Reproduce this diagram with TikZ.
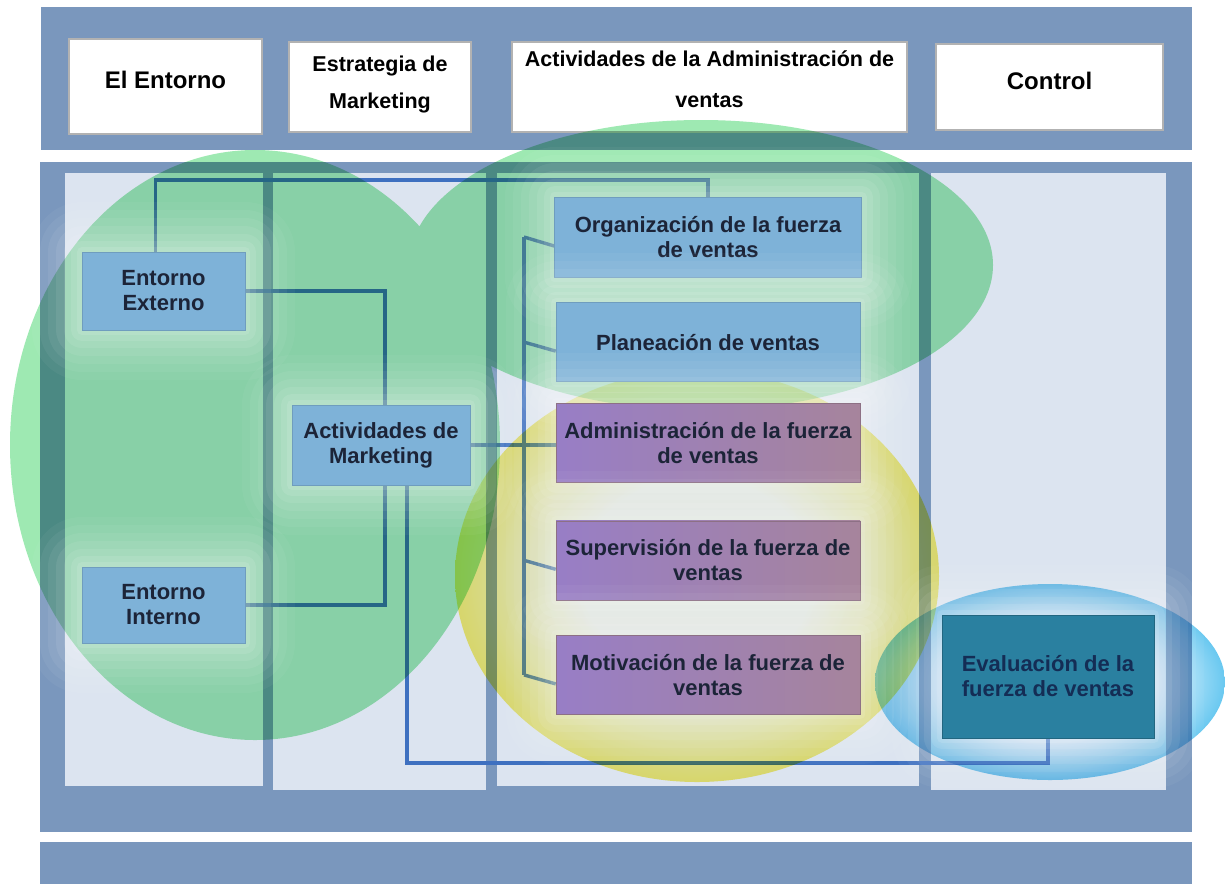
\documentclass[tikz,border=0pt]{standalone}
\usepackage{fontspec}
\setmainfont{Liberation Sans}
\usetikzlibrary{positioning}
\pgfdeclarelayer{back}
\pgfdeclarelayer{tint}
\pgfsetlayers{back,tint,main}
\definecolor{framec}{RGB}{122,151,189}
\definecolor{panelc}{RGB}{220,228,240}
\definecolor{boxc}{RGB}{126,178,216}
\definecolor{purpl}{RGB}{152,126,198}
\definecolor{purpr}{RGB}{166,132,156}
\definecolor{evalc}{RGB}{42,128,160}
\definecolor{linkc}{RGB}{62,112,192}
\definecolor{textc}{RGB}{28,36,56}
\definecolor{greenc}{RGB}{158,233,178}
\definecolor{yellin}{RGB}{252,252,232}
\definecolor{yellout}{RGB}{250,240,115}
\definecolor{bluein}{RGB}{228,246,255}
\definecolor{blueout}{RGB}{105,200,240}
% rim shadings: pale inside, colour near the edge
\pgfdeclareradialshading{yellrim}{\pgfpoint{0bp}{0bp}}{color(0bp)=(yellin); color(12bp)=(yellin); color(25bp)=(yellout); color(50bp)=(yellout)}
\pgfdeclareradialshading{bluerim}{\pgfpoint{0bp}{0bp}}{color(0bp)=(bluein); color(15bp)=(bluein); color(25bp)=(blueout); color(50bp)=(blueout)}

\begin{document}
\begin{tikzpicture}[x=0.5pt,y=-0.5pt,
  glow/.style={preaction={draw=white,draw opacity=.04,line width=50pt,line join=round},
               preaction={draw=white,draw opacity=.05,line width=42pt,line join=round},
               preaction={draw=white,draw opacity=.06,line width=34pt,line join=round},
               preaction={draw=white,draw opacity=.07,line width=26pt,line join=round},
               preaction={draw=white,draw opacity=.08,line width=18pt,line join=round},
               preaction={draw=white,draw opacity=.09,line width=11pt,line join=round},
               preaction={draw=white,draw opacity=.10,line width=5pt,line join=round}},
  inbox/.style={glow,inner sep=0pt,align=center,text=textc,
                font=\fontsize{11}{12.5}\selectfont\bfseries},
  bluebox/.style={inbox,fill=boxc,draw=boxc!88!black,line width=.3pt},
  purpbox/.style={inbox,left color=purpl,right color=purpr,draw=purpr!85!black,line width=.3pt,
                  minimum width=152pt,minimum height=39.5pt},
  head/.style={fill=white,draw=gray!60,line width=.8pt,inner sep=0pt,align=center},
  link/.style={draw=linkc,line width=1.7pt}]

\useasboundingbox (0,0) rectangle (1225,884);

% boxes inside the columns
\node[bluebox,minimum width=81.5pt,minimum height=39pt] (ext) at (163.5,291) {Entorno\\Externo};
\node[bluebox,minimum width=81.5pt,minimum height=38pt] (int) at (163.5,605) {Entorno\\Interno};
\node[bluebox,minimum width=89pt,minimum height=40pt] (mkt) at (381,445) {Actividades de\\Marketing};
\node[bluebox,minimum width=153.5pt,minimum height=40pt] (org) at (708,237) {Organización de la fuerza\\de ventas};
\node[bluebox,minimum width=152pt,minimum height=39.5pt,below=12.5pt of org] (plan) {Planeación de ventas};
\node[purpbox,below=10.5pt of plan] (adm) {Administración de la fuerza\\de ventas};
\node[purpbox,below=19pt of adm] (sup) {Supervisión de la fuerza de\\ventas};
\node[purpbox,below=17.5pt of sup] (mot) {Motivación de la fuerza de\\ventas};
\node[inbox,fill=evalc,draw=evalc!80!black,line width=.5pt,text={rgb,255:red,20;green,45;blue,85},
      minimum width=106pt,minimum height=61.5pt] (eval) at (1048,676.5) {Evaluación de la\\fuerza de ventas};

\begin{pgfonlayer}{back}
  % frame and columns
  \fill[framec] (41,7) rectangle (1192,150);
  \fill[framec] (40,162) rectangle (1192,832);
  \fill[framec] (40,842) rectangle (1192,884);
  \fill[panelc] (65,173) rectangle (263,786);
  \fill[panelc] (273,173) rectangle (486,790);
  \fill[panelc] (497,173) rectangle (919,786);
  \fill[panelc] (931,173) rectangle (1166,790);
  % column titles
  \node[head,minimum width=96.5pt,minimum height=47.5pt,text depth=6.5pt,
        font=\fontsize{12}{14}\selectfont\bfseries] (hEnt) at (165.5,86.5) {El Entorno};
  \node[head,minimum width=91pt,minimum height=45pt,text depth=5pt,
        font=\fontsize{10.75}{18.5}\selectfont\bfseries] (hEst) at (380,87) {Estrategia de\\Marketing};
  \node[head,minimum width=197.5pt,minimum height=45pt,text depth=8pt,
        font=\fontsize{10.75}{20.5}\selectfont\bfseries] (hAct) at (709.5,87) {Actividades de la Administración de\\ventas};
  \node[head,minimum width=113.5pt,minimum height=43pt,text depth=6.5pt,
        font=\fontsize{12}{14}\selectfont\bfseries] (hCtl) at (1049.5,87) {Control};
  % connectors
  \coordinate (topbar) at (600,180);
  \coordinate (botbar) at (700,763);
  \coordinate (brk) at (524,0);
  \draw[link] ([xshift=-4pt]ext.north) |- (topbar) -| (org.north);
  \draw[link] (ext.east) -| ([xshift=2pt]mkt.north);
  \draw[link] (int.east) -| ([xshift=2pt]mkt.south);
  \draw[link] (mkt.east) -- (mkt.east -| adm.west);
  \draw[link] (org.west -| brk) -- (mot.west -| brk);
  \foreach \b in {org,plan,sup,mot}
    \draw[link] (\b.west -| brk) -- ([yshift=-4.5pt]\b.west);
  \draw[link] ([xshift=13pt]mkt.south) |- (botbar) -| (eval.south);
\end{pgfonlayer}

\begin{pgfonlayer}{tint}
  \begin{scope}[blend mode=multiply]
    % both green ovals as one path, so their overlap is not darker
    \fill[greenc] (255,445) ellipse [x radius=122.5pt,y radius=147.5pt]
                  (701,265) ellipse [x radius=146pt,y radius=72.5pt];
    \shade[shading=yellrim] (697,576) ellipse [x radius=121pt,y radius=103pt];
    \shade[shading=bluerim] (1050,682) ellipse [x radius=87.5pt,y radius=49pt];
  \end{scope}
\end{pgfonlayer}
\end{tikzpicture}
\end{document}
